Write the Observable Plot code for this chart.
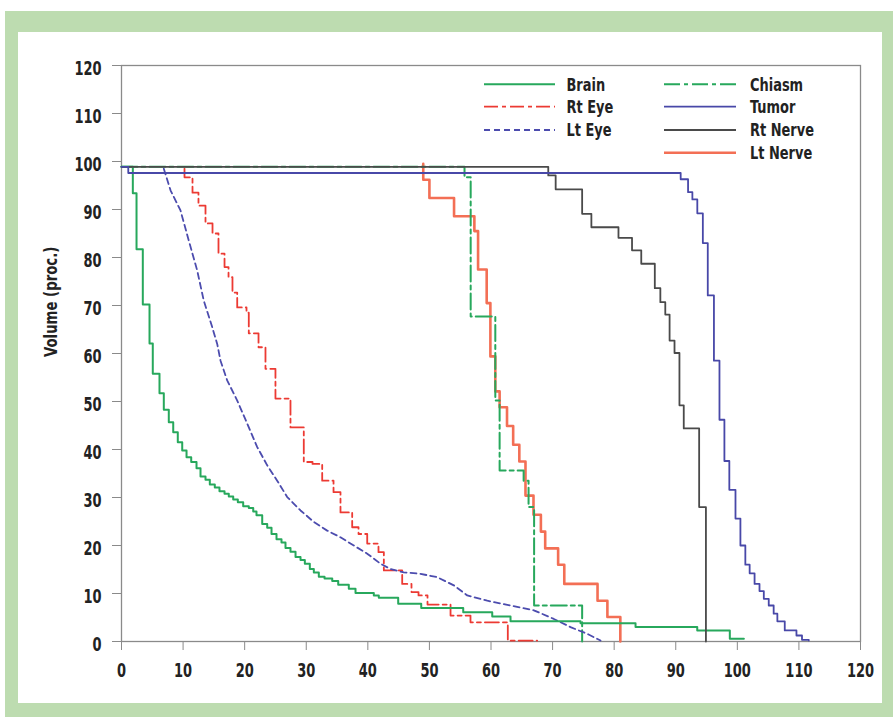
<!DOCTYPE html>
<html>
<head>
<meta charset="utf-8">
<script src="https://cdn.jsdelivr.net/npm/d3@7"></script>
<script src="https://cdn.jsdelivr.net/npm/@observablehq/plot@0.6"></script>
<style>
  body { margin: 0; background: #fff; }
  #page { position: relative; width: 893px; height: 717px; background: #fff; overflow: hidden; }
  #frameOuter { position: absolute; left: 5px; top: 11px; width: 888px; height: 706px; background: #bddcb0; }
  #frameInner { position: absolute; left: 18px; top: 32px; width: 864px; height: 671px; background: #fff; }
  #chart { position: absolute; left: 18px; top: 32px; }
  #legend { position: absolute; left: 480px; top: 70px; }
  .f { font-family: "Liberation Sans Narrow", "Arial Narrow", "DejaVu Sans Condensed", sans-serif; font-weight: bold; }
</style>
</head>
<body>
<div id="page">
  <div id="frameOuter"></div>
  <div id="frameInner"></div>
  <div id="chart"></div>
  <svg id="legend" width="360" height="100"></svg>
</div>
<script>
// ---- tick labels ----
const xTicks = [0, 10, 20, 30, 40, 50, 60, 70, 80, 90, 100, 110, 120];
const yTicks = [0, 10, 20, 30, 40, 50, 60, 70, 80, 90, 100, 110, 120];

// ---- series (dose, volume %) ; step curves hold the value from x onward ----
const brain = [[0,98.9],[1.84,93.4],[2.44,81.7],[3.46,70.2],[4.55,62.1],[5.08,55.8],[6.17,51.7],[6.87,48.3],[7.68,45.7],[8.40,43.6],[9.14,41.5],[9.86,39.8],[10.56,38.4],[11.32,37.4],[12.18,36.1],[12.83,34.4],[13.64,33.7],[14.34,32.7],[15.15,32.1],[15.91,31.3],[16.73,30.8],[17.42,30.2],[18.14,29.6],[18.89,29.0],[19.76,28.2],[20.67,27.8],[21.39,27.1],[21.92,26.3],[22.85,24.5],[23.66,23.7],[24.36,22.4],[25.17,21.3],[25.98,20.6],[26.63,19.5],[27.44,18.7],[28.26,17.6],[29.07,17.0],[29.77,16.2],[30.58,15.1],[31.23,14.4],[32.04,13.5],[32.97,13.1],[34.22,12.6],[35.19,11.8],[36.91,11.0],[38.0,10.1],[40.97,9.6],[41.78,9.1],[44.93,7.85],[48.67,7.0],[55.49,6.1],[60.2,5.2],[63.17,4.2],[74.54,3.8],[83.47,3.0],[93.49,2.3],[98.78,0.56],[101.06,0.56]];
const rtEye = [[10.23,98.5],[10.23,96.7],[11.53,93.5],[12.5,90.8],[13.64,87.1],[14.78,85.0],[15.75,80.8],[16.73,78.0],[17.38,75.9],[18.02,72.7],[18.79,69.6],[20.3,68.5],[20.67,64.2],[22.25,61.3],[23.38,56.8],[25.0,50.6],[27.44,44.6],[29.6,37.4],[31.02,37.0],[32.59,33.5],[34.43,31.1],[35.56,26.9],[37.46,23.8],[38.49,22.4],[39.9,20.4],[41.73,18.6],[42.6,14.8],[45.58,12.0],[47.09,10.3],[48.23,9.6],[49.69,7.7],[53.43,5.4],[56.67,4.0],[62.73,0.2],[67.5,0.2]];
const ltEye = [[6.87,98.5],[7.96,94.0],[9.58,89.8],[10.93,83.5],[12.29,77.3],[13.36,71.0],[14.73,65.5],[15.54,62.0],[16.08,58.5],[17.16,54.4],[18.79,50.2],[20.41,45.4],[22.04,40.5],[23.66,36.7],[25.28,33.5],[26.91,30.1],[29.07,27.3],[31.23,24.9],[33.4,23.1],[35.56,21.7],[37.72,20.0],[39.9,18.3],[42.06,16.2],[43.68,15.1],[45.84,14.4],[48.55,14.1],[51.27,13.4],[53.96,11.7],[56.14,9.6],[59.39,8.5],[63.17,7.5],[66.95,6.5],[70.2,4.7],[72.91,3.0],[75.62,1.6],[77.78,0.2]];
const chiasm = [[0,98.9],[55.7,96.7],[56.7,67.7],[60.7,50.2],[61.4,35.6],[65.3,33.5],[66.1,28.0],[67.0,7.5],[74.8,0]];
const tumor = [[0,98.9],[1.1,97.6],[90.8,96.3],[92.0,93.6],[92.7,92.1],[93.5,89.2],[94.4,83.0],[95.2,72.1],[96.2,58.5],[97.1,46.2],[97.9,37.6],[98.7,31.6],[99.7,25.6],[100.5,20.0],[101.3,16.0],[102.0,14.2],[102.8,12.0],[103.6,10.5],[104.3,8.9],[105.1,7.5],[105.9,5.8],[106.5,4.2],[107.7,2.3],[109.6,1.25],[110.5,0.35],[111.6,0.2]];
const rtNerve = [[0,98.9],[69.3,97.1],[70.5,94.2],[74.8,89.1],[76.3,86.3],[80.7,84.1],[82.9,81.5],[84.4,78.7],[86.6,73.6],[87.5,70.7],[88.3,68.1],[89.0,62.7],[89.8,60.1],[90.6,49.2],[91.3,44.4],[93.8,28.0],[94.9,0]];
const ltNerve = [[49.0,99.5],[49.0,96.2],[50.0,92.4],[54.0,88.6],[57.3,85.5],[57.9,77.5],[59.3,70.5],[59.9,59.4],[60.7,52.1],[61.4,48.8],[62.6,44.9],[63.6,41.0],[64.6,37.5],[65.6,30.4],[66.9,26.4],[68.1,22.9],[68.8,19.4],[70.9,16.0],[71.9,12.0],[77.3,8.5],[78.9,5.1],[81.0,0]];

const FONT = '"Liberation Sans Narrow", "Arial Narrow", "DejaVu Sans Condensed", sans-serif';

// series styles
const series = [
  {name: "Brain",    data: brain,   stroke: "#27a85c", width: 2,   dash: null,        curve: "step-after"},
  {name: "Rt Eye",   data: rtEye,   stroke: "#ec3a33", width: 1.8, dash: "14,4,4,4",  curve: "step-after"},
  {name: "Lt Eye",   data: ltEye,   stroke: "#4c4cae", width: 1.8, dash: "6,4",       curve: "linear"},
  {name: "Chiasm",   data: chiasm,  stroke: "#27a85c", width: 2,   dash: "16,4,4,4",  curve: "step-after"},
  {name: "Tumor",    data: tumor,   stroke: "#4848a8", width: 1.8, dash: null,        curve: "step-after"},
  {name: "Rt Nerve", data: rtNerve, stroke: "#4a4a4a", width: 1.8, dash: null,        curve: "step-after"},
  {name: "Lt Nerve", data: ltNerve, stroke: "#f36f55", width: 2.6, dash: null,        curve: "step-after"}
];
const drawOrder = ["Lt Nerve", "Chiasm", "Rt Eye", "Lt Eye", "Brain", "Rt Nerve", "Tumor"];

const lineMarks = drawOrder.map(n => {
  const s = series.find(d => d.name === n);
  return Plot.line(s.data, {
    x: d => d[0], y: d => d[1],
    stroke: s.stroke, strokeWidth: s.width,
    strokeDasharray: s.dash || undefined,
    curve: s.curve
  });
});

const chart = Plot.plot({
  width: 864, height: 671,
  marginLeft: 103, marginRight: 22, marginTop: 33, marginBottom: 62,
  style: {fontFamily: FONT, fontSize: "19px", fontWeight: "bold", background: "transparent", color: "#222"},
  x: {domain: [0, 120]},
  y: {domain: [0, 120]},
  marks: [
    Plot.frame({stroke: "#8a8a8a", strokeWidth: 1.3}),
    Plot.axisX({ticks: xTicks, tickSize: 9, tickPadding: 13, stroke: "#8a8a8a", fill: "#222", label: null}),
    Plot.axisY({ticks: yTicks, tickSize: 9, stroke: "#8a8a8a", fill: "none", label: null}),
    Plot.axisY({ticks: yTicks, tickSize: 9, tickPadding: 11, stroke: "none", fill: "#222", dy: 3, label: null}),
    Plot.text(["Volume (proc.)"], {text: d => d, frameAnchor: "left", dx: -70, dy: 3.5, rotate: -90, fontSize: 18, fontWeight: "bold", fill: "#222"}),
    ...lineMarks
  ]
});
document.getElementById("chart").appendChild(chart);

// ---- legend ----
const legendCols = [
  ["Brain", "Rt Eye", "Lt Eye"],
  ["Chiasm", "Tumor", "Rt Nerve", "Lt Nerve"]
];
const colX = [{x1: 4, x2: 75, tx: 86.5}, {x1: 184, x2: 256, tx: 270}];
const rowY = [14.3, 36.7, 60, 82.7];
const lg = d3.select("#legend");
legendCols.forEach((col, ci) => {
  col.forEach((name, ri) => {
    const s = series.find(d => d.name === name);
    lg.append("line")
      .attr("x1", colX[ci].x1).attr("x2", colX[ci].x2)
      .attr("y1", rowY[ri]).attr("y2", rowY[ri])
      .attr("stroke", s.stroke).attr("stroke-width", s.width)
      .attr("stroke-dasharray", s.dash);
    lg.append("text")
      .attr("class", "f")
      .attr("x", colX[ci].tx).attr("y", rowY[ri])
      .attr("dy", "0.36em")
      .attr("font-size", 18).attr("fill", "#222")
      .text(name);
  });
});

// ---- condense text horizontally to mimic a condensed heavy typeface ----
function condense(el, k) {
  const L = el.getComputedTextLength();
  if (L > 0) {
    el.setAttribute("textLength", (L * k).toFixed(2));
    el.setAttribute("lengthAdjust", "spacingAndGlyphs");
  }
}
d3.select(chart).selectAll("text").each(function() {
  const isTitle = this.textContent === "Volume (proc.)";
  condense(this, isTitle ? 0.82 : 0.76);
});
lg.selectAll("text").each(function() { condense(this, 0.8); });
</script>
</body>
</html>
